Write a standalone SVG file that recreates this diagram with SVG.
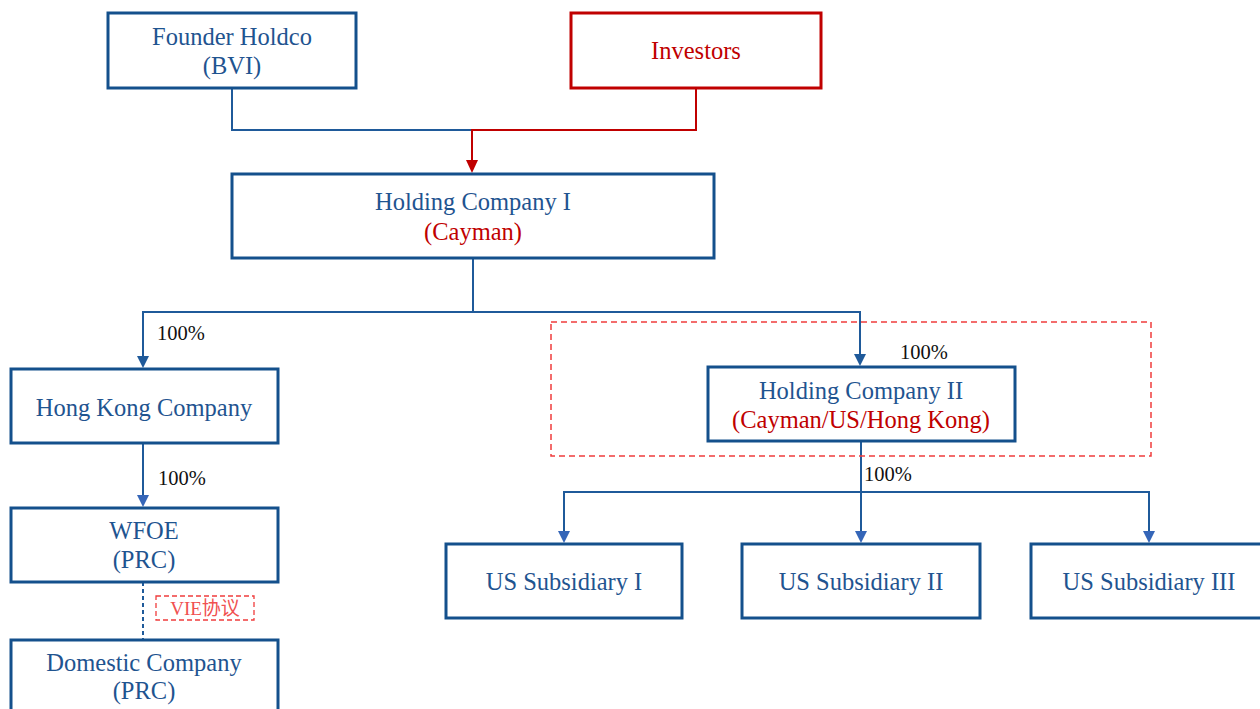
<svg xmlns="http://www.w3.org/2000/svg" width="1260" height="709" viewBox="0 0 1260 709">
<style>
.box{fill:#fff;stroke:#14508C;stroke-width:3}
.rbox{fill:#fff;stroke:#C00000;stroke-width:3}
.t{font-family:"Liberation Serif","Times New Roman",serif;font-size:24.5px;fill:#1F5490;text-anchor:middle}
.r{fill:#C00000}
.pct{font-family:"Liberation Serif","Times New Roman",serif;font-size:20.5px;fill:#111}
.ln{fill:none;stroke:#1F5A9A;stroke-width:2}
.lnr{fill:none;stroke:#C00000;stroke-width:2}
.vie{font-family:"Liberation Serif","Noto Sans CJK SC",serif;font-size:19px;fill:#F05050;text-anchor:middle}
</style>
<g id="connectors">
<path class="ln" d="M232,88 V130 H472"/>
<path class="lnr" d="M696,88 V130 H472 V162"/>
<path d="M466,160 L478,160 L472,173 Z" fill="#C00000"/>
<path class="ln" d="M473,258 V312 H143 V358"/>
<path d="M137,356 L149,356 L143,368 Z" fill="#1F5A9A"/>
<path class="ln" d="M473,312 H860 V356"/>
<path d="M854,354 L866,354 L860,366 Z" fill="#1F5A9A"/>
<path class="ln" d="M143,443 V497" stroke="#3566B8"/>
<path d="M137,495 L149,495 L143,507 Z" fill="#3566B8"/>
<path class="ln" d="M143,582 V640" stroke-dasharray="4,3" stroke="#3F72B8" stroke-width="1.5"/>
<path class="ln" d="M861,441 V533" stroke="#3566B8"/>
<path class="ln" d="M564,533 V492 H1149 V533" stroke="#3566B8"/>
<path d="M558,531 L570,531 L564,543 Z" fill="#3566B8"/>
<path d="M855,531 L867,531 L861,543 Z" fill="#3566B8"/>
<path d="M1143,531 L1155,531 L1149,543 Z" fill="#3566B8"/>
<rect x="551" y="322" width="600" height="134" fill="none" stroke="#F03C3C" stroke-width="1.5" stroke-dasharray="6,4"/>
<text class="pct" x="157" y="340">100%</text>
<text class="pct" x="158" y="485">100%</text>
<text class="pct" x="900" y="359">100%</text>
<text class="pct" x="864" y="481">100%</text>
</g>
<g id="founder">
<rect class="box" x="108" y="13" width="248" height="75"/>
<text class="t" x="232" y="45">Founder Holdco</text>
<text class="t" x="232" y="74">(BVI)</text>
</g>
<g id="investors">
<rect class="rbox" x="571" y="13" width="250" height="75"/>
<text class="t r" x="696" y="59">Investors</text>
</g>
<g id="holdco1">
<rect class="box" x="232" y="174" width="482" height="84"/>
<text class="t" x="473" y="210">Holding Company I</text>
<text class="t r" x="473" y="240">(Cayman)</text>
</g>
<g id="hk">
<rect class="box" x="11" y="369" width="267" height="74"/>
<text class="t" x="144" y="416">Hong Kong Company</text>
</g>
<g id="wfoe">
<rect class="box" x="11" y="508" width="267" height="74"/>
<text class="t" x="144" y="539">WFOE</text>
<text class="t" x="144" y="568">(PRC)</text>
</g>
<g id="vie">
<rect x="156" y="596" width="98" height="24" fill="none" stroke="#F03C3C" stroke-width="1.3" stroke-dasharray="5,3"/>
<text class="vie" x="205" y="615">VIE协议</text>
</g>
<g id="domestic">
<rect class="box" x="11" y="640" width="267" height="75"/>
<text class="t" x="144" y="671">Domestic Company</text>
<text class="t" x="144" y="699">(PRC)</text>
</g>
<g id="holdco2">
<rect class="box" x="708" y="367" width="307" height="74"/>
<text class="t" x="861" y="399">Holding Company II</text>
<text class="t r" x="861" y="428">(Cayman/US/Hong Kong)</text>
</g>
<g id="us1">
<rect class="box" x="446" y="544" width="236" height="74"/>
<text class="t" x="564" y="590">US Subsidiary I</text>
</g>
<g id="us2">
<rect class="box" x="742" y="544" width="238" height="74"/>
<text class="t" x="861" y="590">US Subsidiary II</text>
</g>
<g id="us3">
<rect class="box" x="1031" y="544" width="238" height="74"/>
<text class="t" x="1149" y="590">US Subsidiary III</text>
</g>
</svg>
